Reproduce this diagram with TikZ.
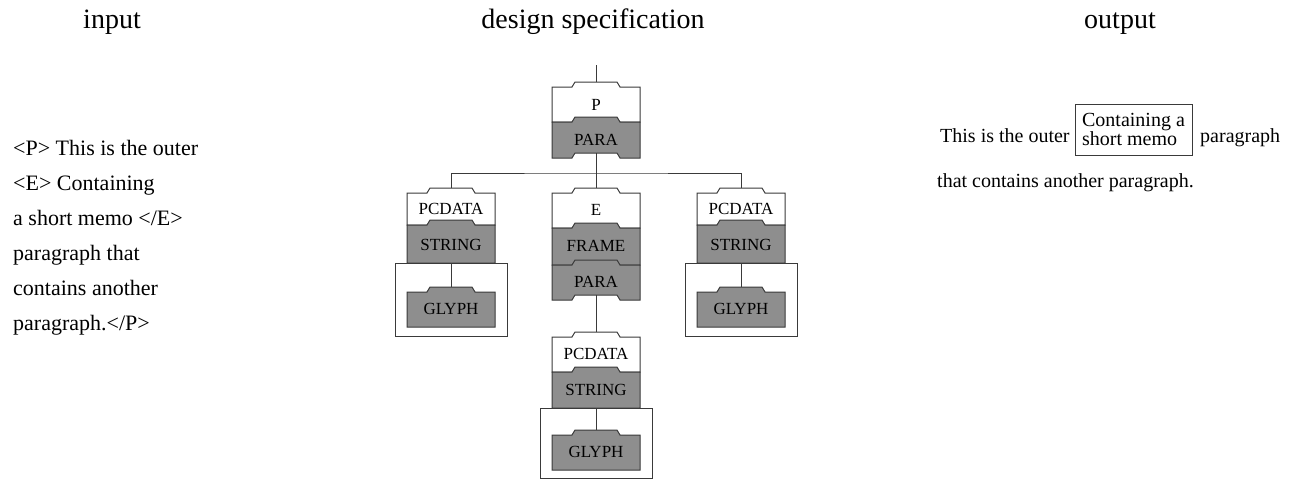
\documentclass[tikz,border=0pt]{standalone}
\usepackage{fontspec}
\setmainfont{Liberation Serif}
\definecolor{tilegray}{HTML}{8E8E8E}
\definecolor{lin}{HTML}{3A3A3A}
\tikzset{
  tileline/.style={draw=lin, line width=1pt},
  conn/.style={draw=lin, line width=1pt},
  lbl/.style={font=\fontsize{17}{17}\selectfont, inner sep=0pt, text height=11.5pt, text depth=0pt, anchor=center},
  body/.style={font=\fontsize{22}{22}\selectfont, inner sep=0pt, anchor=base west},
  outtxt/.style={font=\fontsize{20}{20}\selectfont, inner sep=0pt, anchor=base west},
  head/.style={font=\fontsize{28}{28}\selectfont, inner sep=0pt, anchor=base},
  container/.style={draw=lin, line width=1pt, fill=white}
}
% #1 cx, #2 top (main), #3 bottom, #4 fill
\newcommand\tileflat[4]{%
  \filldraw[tileline, fill=#4] (#1-44,#3) -- (#1-44,#2) -- (#1-24,#2) -- (#1-21,#2-5) -- (#1+21,#2-5) -- (#1+24,#2) -- (#1+44,#2) -- (#1+44,#3) -- cycle;}
\newcommand\tilenotch[4]{%
  \filldraw[tileline, fill=#4] (#1-44,#3) -- (#1-44,#2) -- (#1-24,#2) -- (#1-21,#2-5) -- (#1+21,#2-5) -- (#1+24,#2) -- (#1+44,#2) -- (#1+44,#3) -- (#1+24,#3) -- (#1+21,#3-5) -- (#1-21,#3-5) -- (#1-24,#3) -- cycle;}
\begin{document}
\begin{tikzpicture}[x=1pt,y=-1pt]
\useasboundingbox[fill=white] (0,0) rectangle (1298,480);

% headers
\node[head] (hin) at (112,28) {input};
\node[head] (hdes) at (593,28) {design specification};
\node[head] (hout) at (1120,28) {output};

% input text
\node[body] (in1) at (13,155) {<P> This is the outer};
\node[body] (in2) at (13,190) {<E> Containing};
\node[body] (in3) at (13,225) {a short memo </E>};
\node[body] (in4) at (13,260) {paragraph that};
\node[body] (in5) at (13,295) {contains another};
\node[body] (in6) at (13,330) {paragraph.</P>};

% output text
\node[outtxt] (out1) at (940,142) {This is the outer};
\node[draw=lin, line width=0.8pt, minimum width=117pt, minimum height=51pt, inner sep=0pt, align=left,
      font=\fontsize{20}{17}\selectfont] (memo) at (1133.5,129.5) {Containing a\\short memo};
\node[outtxt] (out2) at (1200,142) {paragraph};
\node[outtxt] (out3) at (937,187) {that contains another paragraph.};

% ---------- tree ----------
% root
\tileflat{596}{87}{122}{white}
\tilenotch{596}{122}{158}{tilegray}
\node[lbl] (P) at (596,105) {P};
\node[lbl] (PARA) at (596,140) {PARA};
\coordinate (root) at (596,65);
\coordinate (Ptab) at (596,82);
\coordinate (PARAn) at (596,153);

% left column
\tileflat{451}{193}{225}{white}
\tileflat{451}{225}{263}{tilegray}
\node[lbl] (PCL) at (451,209) {PCDATA};
\node[lbl] (STL) at (451,245) {STRING};
\draw[container] (395,263) rectangle (507,336);
\tileflat{451}{292}{327}{tilegray}
\node[lbl] (GLL) at (451,309) {GLYPH};
\coordinate (PCLtab) at (451,188);
\coordinate (STLb) at (451,263);
\coordinate (GLLtab) at (451,287);

% middle column
\tileflat{596}{193}{228}{white}
\tileflat{596}{228}{265}{tilegray}
\tilenotch{596}{265}{300}{tilegray}
\node[lbl] (E) at (596,210) {E};
\node[lbl] (FRAME) at (596,246) {FRAME};
\node[lbl] (PARAE) at (596,282) {PARA};
\coordinate (Etab) at (596,188);
\coordinate (PARAEn) at (596,295);
\tileflat{596}{337}{372}{white}
\tileflat{596}{372}{408}{tilegray}
\node[lbl] (PCM) at (596,354) {PCDATA};
\node[lbl] (STM) at (596,390) {STRING};
\coordinate (PCMtab) at (596,332);
\coordinate (STMb) at (596,408);
\draw[container] (540,408) rectangle (652,478);
\tileflat{596}{435}{470}{tilegray}
\node[lbl] (GLM) at (596,452) {GLYPH};
\coordinate (GLMtab) at (596,430);

% right column
\tileflat{741}{193}{225}{white}
\tileflat{741}{225}{263}{tilegray}
\node[lbl] (PCR) at (741,209) {PCDATA};
\node[lbl] (STR) at (741,245) {STRING};
\draw[container] (685,263) rectangle (797,336);
\tileflat{741}{292}{327}{tilegray}
\node[lbl] (GLR) at (741,309) {GLYPH};
\coordinate (PCRtab) at (741,188);
\coordinate (STRb) at (741,263);
\coordinate (GLRtab) at (741,287);

% connectors
\coordinate (bar) at (596,173);
\draw[conn] (root) -- (Ptab);
\draw[conn] (PARAn) -- (Etab);
\draw[conn] (PCLtab) |- (bar) -| (PCRtab);
\draw[conn] (STLb) -- (GLLtab);
\draw[conn] (STRb) -- (GLRtab);
\draw[conn] (PARAEn) -- (PCMtab);
\draw[conn] (STMb) -- (GLMtab);
\end{tikzpicture}
\end{document}
